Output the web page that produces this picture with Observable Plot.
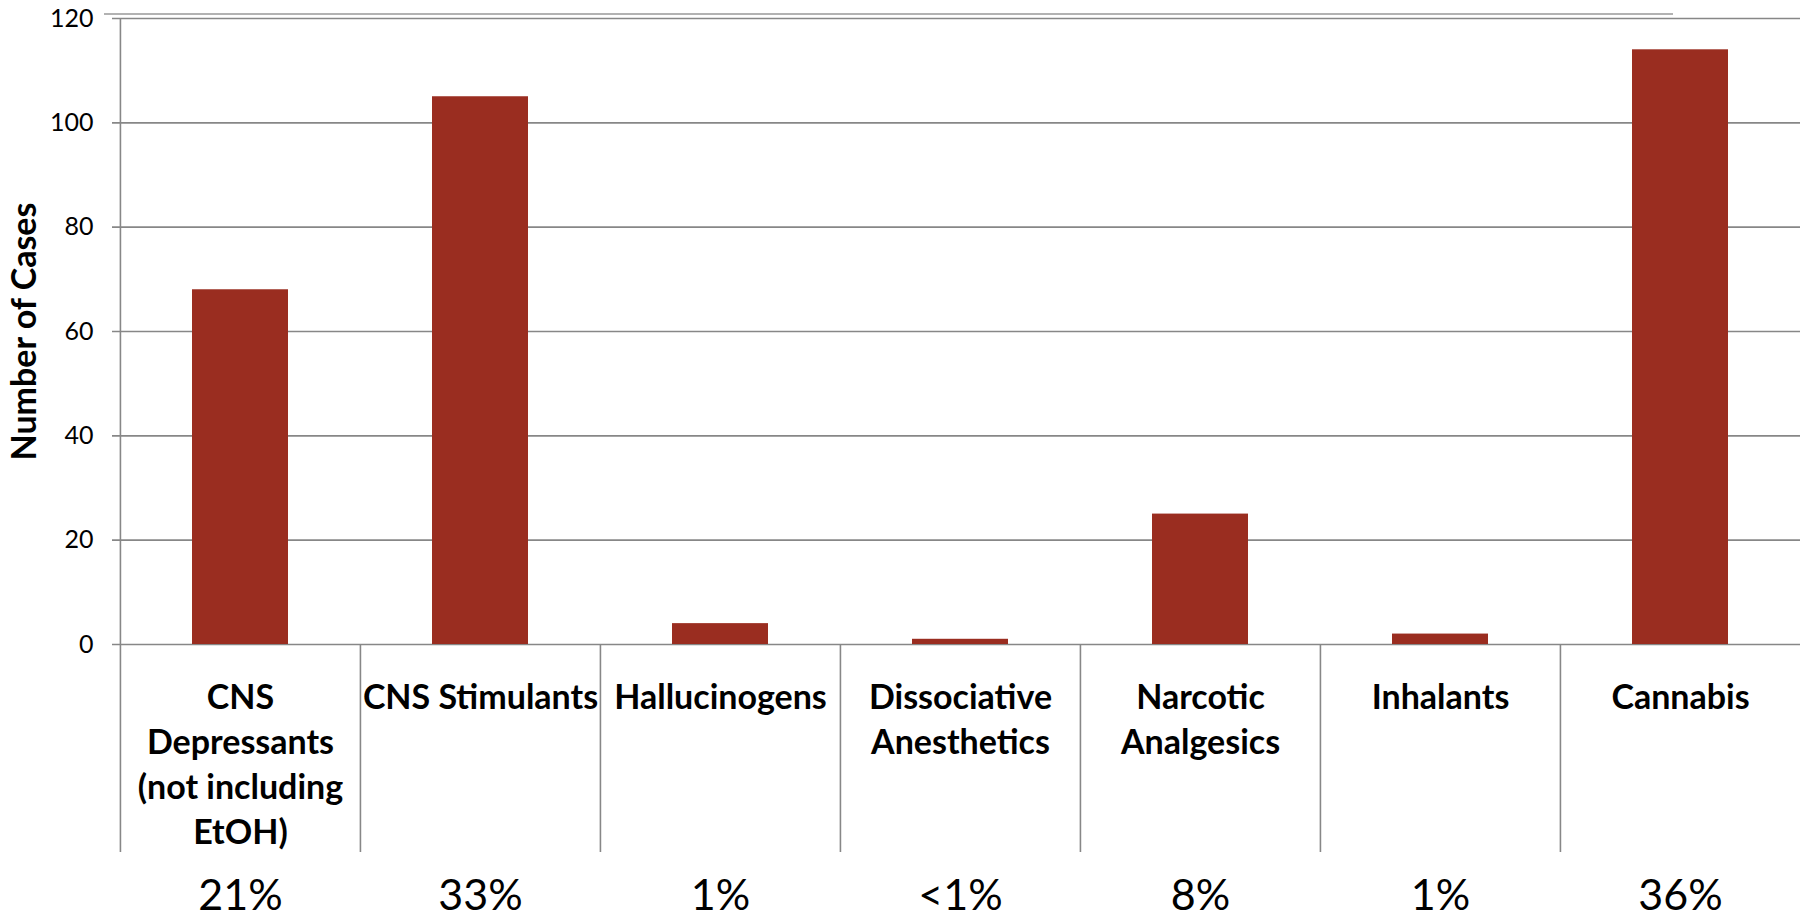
<!DOCTYPE html>
<html><head><meta charset="utf-8">
<script src="https://cdn.jsdelivr.net/npm/d3@7"></script>
<script src="https://cdn.jsdelivr.net/npm/@observablehq/plot@0.6"></script>
<style>
html,body{margin:0;padding:0;background:#fff;}
#chart svg{display:block;}
</style></head><body><div id="chart"></div>
<script>
const categories = ["CNS Depressants (not including EtOH)", "CNS Stimulants", "Hallucinogens", "Dissociative Anesthetics", "Narcotic Analgesics", "Inhalants", "Cannabis"];
const labelLines = ["CNS\nDepressants\n(not including\nEtOH)", "CNS Stimulants", "Hallucinogens", "Dissociative\nAnesthetics", "Narcotic\nAnalgesics", "Inhalants", "Cannabis"];
const cases = [68, 105, 4, 1, 25, 2, 114];
const shares = ["21%", "33%", "1%", "<1%", "8%", "1%", "36%"];
const yTicks = [0, 20, 40, 60, 80, 100, 120];
const yLabel = "Number of Cases";

const data = categories.map((c, i) => ({category: c, value: cases[i], label: labelLines[i], share: shares[i]}));

const W = 1800, H = 918, ML = 119, MR = 0, MT = 18, MB = 274;
const step = (W - ML - MR) / categories.length;
const grid = "#878787";
const font = "Lato, 'Open Sans', sans-serif";

const chart = Plot.plot({
  width: W, height: H,
  marginLeft: ML, marginRight: MR, marginTop: MT, marginBottom: MB,
  style: {fontFamily: font, background: "#fff", color: "#000"},
  x: {domain: categories, paddingInner: 0.6, paddingOuter: 0.3, axis: null},
  y: {domain: [0, 120], axis: null},
  marks: [
    Plot.ruleY(yTicks, {stroke: grid, strokeWidth: 1.6, insetLeft: -7}),
    Plot.ruleY([120], {stroke: "#999", strokeWidth: 1.6, dy: -4.5, insetLeft: -15, insetRight: 127}),
    Plot.axisY({ticks: yTicks, tickSize: 0, tickPadding: 26, fontSize: 25, label: null}),
    Plot.barY(data, {x: "category", y: "value", fill: "#9a2d20"}),
    Plot.ruleX(data.slice(0, 1), {x: "category", dx: -step / 2, y1: 120, y2: 0, stroke: grid, strokeWidth: 1.6}),
    Plot.ruleX(data, {x: "category", dx: -step / 2, y1: 0, y2: 0, insetBottom: -208, stroke: grid, strokeWidth: 1.6}),
    Plot.text(data, {x: "category", text: "label", frameAnchor: "bottom", lineAnchor: "top", dy: 32, fontSize: 34, fontWeight: "bold", lineHeight: 1.33, fill: "#000"}),
    Plot.text(data, {x: "category", text: "share", frameAnchor: "bottom", lineAnchor: "bottom", dy: 265, fontSize: 43, fill: "#000"}),
    Plot.text([yLabel], {frameAnchor: "left", textAnchor: "middle", dx: -94, rotate: -90, fontSize: 34, fontWeight: "bold", fill: "#000"})
  ]
});
document.getElementById("chart").appendChild(chart);
</script></body></html>
